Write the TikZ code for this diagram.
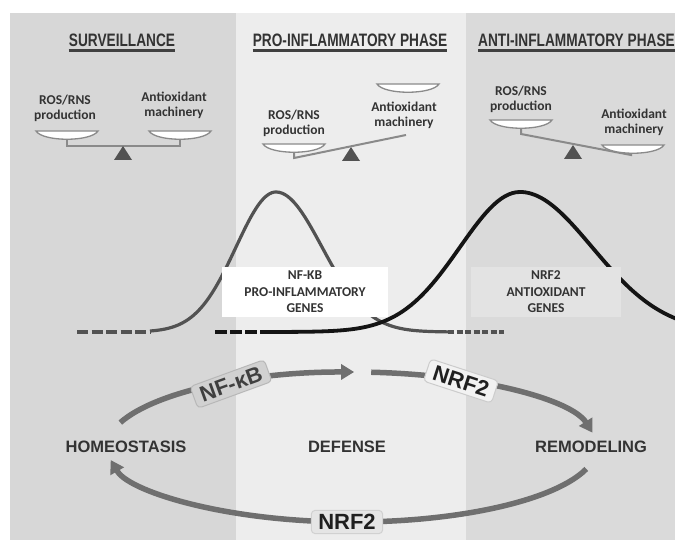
\documentclass[tikz,border=0pt]{standalone}
\usepackage{fontspec}
\setmainfont{Liberation Sans}
\newfontfamily\calib{Carlito}
\newfontfamily\narrowfont[FakeStretch=0.76]{Liberation Sans}
\usetikzlibrary{arrows.meta}

\definecolor{panelL}{HTML}{D7D7D7}
\definecolor{panelM}{HTML}{EDEDED}
\definecolor{panelR}{HTML}{DADADA}
\definecolor{inkgray}{HTML}{333333}
\definecolor{pangray}{HTML}{8A8A8A}
\definecolor{arrowgray}{HTML}{6F6F6F}

\begin{document}
\begin{tikzpicture}[x=1pt, y=-1pt,
    header/.style={font={\narrowfont\bfseries\fontsize{18}{20}\selectfont}, text=inkgray, inner sep=0pt},
    uline/.style={line width=2.5pt, draw=black!75},
    lbl/.style={font={\calib\bfseries\fontsize{13.5}{15}\selectfont}, text=inkgray, align=center, inner sep=0pt},
    pan/.style={draw=pangray, line width=1.3pt, fill=white},
    beam/.style={draw=pangray, line width=2pt},
    pivot/.style={fill=black!68},
    genesbox/.style={font={\calib\bfseries\fontsize{13.5}{16.5}\selectfont}, text=inkgray, align=center, minimum width=166pt, minimum height=50pt, inner sep=0pt},
    nfkbline/.style={draw=black!68, line width=3.2pt},
    nrfline/.style={draw=black!92, line width=3.8pt},
    cycarrow/.style={draw=arrowgray, line width=5.5pt, -{Triangle[length=13pt, width=15pt]}},
    cyclbl/.style={font={\bfseries\fontsize{16.5}{18}\selectfont}, text=inkgray, inner sep=0pt},
    tag/.style={font={\bfseries\fontsize{22}{24}\selectfont}, rounded corners=4pt, line width=1pt, inner xsep=7pt, inner ysep=4pt}
  ]
    \useasboundingbox (0,0) rectangle (675,540);
    \fill[white] (0,0) rectangle (675,540);
    % Draw the three phase panels
    \foreach \xa/\xb/\col in {10/236/panelL, 236/466/panelM, 466/675/panelR} {
        \fill[\col] (\xa,13) rectangle (\xb,540);
    }
    % Panel titles with underline
    \node[header] (survhd) at (122,40) {SURVEILLANCE};
    \node[header] (prohd) at (350,40) {PRO-INFLAMMATORY PHASE};
    \node[header, anchor=west] (antihd) at (478,40) {ANTI-INFLAMMATORY PHASE};
    \foreach \hd in {survhd, prohd, antihd} {
        \draw[uline] ([yshift=-4pt]\hd.south west) -- ([yshift=-4pt]\hd.south east);
    }
    % Draw the balances
    \draw[beam] (67,139) -- (67,146) -- (180,146) -- (180,139);
    \draw[beam] (294,152) -- (294,158) -- (406,135);
    \draw[beam] (521,128) -- (521,134) -- (631,155) -- (631,152);
    \foreach \cx/\cy in {67/131, 180/131, 294/144, 408/84, 521/120, 633/145} {
        \draw[pan] ({\cx-31},\cy) -- ({\cx+31},\cy) .. controls ({\cx+24},{\cy+11}) and ({\cx-24},{\cy+11}) .. cycle;
    }
    \foreach \px/\py in {123/146, 351/147, 573/145} {
        \fill[pivot] (\px,\py) -- ({\px-9},{\py+14}) -- ({\px+9},{\py+14}) -- cycle;
    }
    \node[lbl] (ros1) at (65,108) {ROS/RNS\\production};
    \node[lbl] (aox1) at (174,105) {Antioxidant\\machinery};
    \node[lbl] (ros2) at (294,123) {ROS/RNS\\production};
    \node[lbl] (aox2) at (404,115) {Antioxidant\\machinery};
    \node[lbl] (ros3) at (521,99) {ROS/RNS\\production};
    \node[lbl] (aox3) at (634,122) {Antioxidant\\machinery};
    % NF-kB expression curve
    \draw[nfkbline, dash pattern=on 11pt off 3.5pt] (77,332) -- (150,332);
    \draw[nfkbline] plot[domain=150:276, samples=60] (\x, {332-140*exp(-0.5*((\x-276)/40)^2)})
        -- plot[domain=276:448, samples=60] (\x, {332-140*exp(-0.5*((\x-276)/46)^2)});
    \draw[nfkbline, dash pattern=on 6pt off 2.5pt] (448,332) -- (504,332);
    % NRF2 expression curve
    \draw[nrfline, dash pattern=on 12pt off 3pt] (215,332) -- (258,332);
    \draw[nrfline] plot[domain=260:520, samples=70] (\x, {332-140*exp(-0.5*((\x-520)/60)^2)})
        -- plot[domain=520:690, samples=60] (\x, {332-140*exp(-0.5*((\x-520)/72)^2)});
    % Gene boxes
    \node[genesbox, fill=white] (nfkbgenes) at (305,292) {NF-KB\\PRO-INFLAMMATORY\\GENES};
    \node[genesbox, fill=black!11, minimum width=150pt] (nrfgenes) at (546,292) {NRF2\\ANTIOXIDANT\\GENES};
    % Cycle
    \coordinate (ring) at (352,447);
    \node[cyclbl] (homeo) at (126,447) {HOMEOSTASIS};
    \node[cyclbl] (defense) at (347,447) {DEFENSE};
    \node[cyclbl] (remodel) at (591,447) {REMODELING};
    \draw[cycarrow] (ring) ++(161:245pt and 75pt) arc[start angle=161, end angle=89.5, x radius=245pt, y radius=75pt];
    \draw[cycarrow] (ring) ++(85.5:245pt and 75pt) arc[start angle=85.5, end angle=11, x radius=245pt, y radius=75pt];
    \draw[cycarrow] (ring) ++(-17:245pt and 75pt) arc[start angle=-17, end angle=-170, x radius=245pt, y radius=75pt];
    \node[tag, fill=black!18, draw=black!28, text=black!75, rotate=20] (nfkbtag) at (231,384) {NF-κB};
    \node[tag, fill=black!5, draw=black!20, text=black!88, rotate=-18] (nrftop) at (461,381) {NRF2};
    \node[tag, fill=black!10, draw=black!18, text=black!88] (nrfbot) at (347,522) {NRF2};
\end{tikzpicture}
\end{document}
